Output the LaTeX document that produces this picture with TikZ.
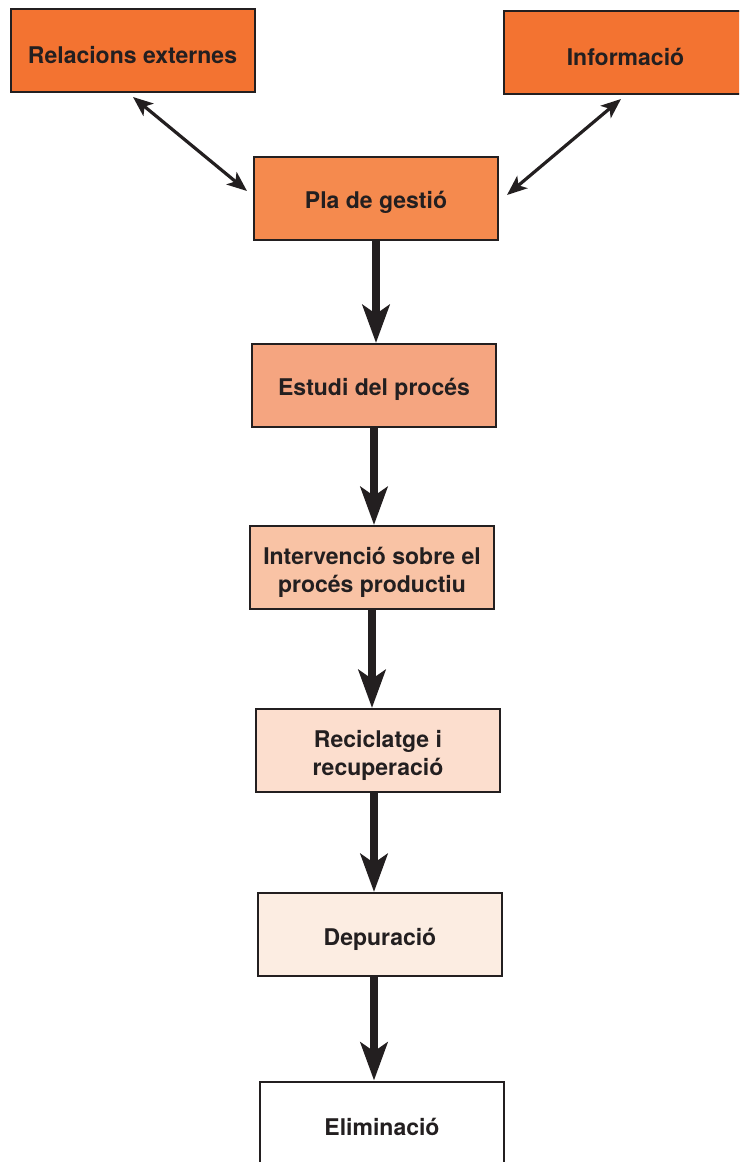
\documentclass[tikz,border=0pt]{standalone}
\usepackage{fontspec}
\setmainfont{TeX Gyre Heros}
\usetikzlibrary{arrows.meta}
\definecolor{ink}{HTML}{231F20}
\definecolor{c1}{HTML}{F37331}
\definecolor{c2}{HTML}{F58A4E}
\definecolor{c3}{HTML}{F5A580}
\definecolor{c4}{HTML}{F9C3A5}
\definecolor{c5}{HTML}{FCDECE}
\definecolor{c6}{HTML}{FCEDE2}
\newcommand\tp{\rule{0pt}{26pt}}
\tikzset{
  box/.style={draw=ink, line width=2pt, minimum width=244pt, minimum height=83pt,
    align=center, inner sep=0pt, text=ink, font=\fontsize{23}{28}\selectfont\bfseries},
  flow/.style={draw=ink, line width=8pt, -{Stealth[length=38pt, width=27pt, inset=9pt]}},
  dbl/.style={draw=ink, line width=3.2pt, {Stealth[length=20pt, width=16pt, inset=5pt]}-{Stealth[length=20pt, width=16pt, inset=5pt]}}
}
\begin{document}
\begin{tikzpicture}[x=1pt, y=-1pt]
\useasboundingbox (0,0) rectangle (739,1162);
\clip (0,0) rectangle (739,1162);
\node[box, fill=c1] (rel) at (132.5,50.5) {\tp Relacions externes};
\node[box, fill=c1] (inf) at (625.5,52.5) {\tp Informació};
\node[box, fill=c2] (pla) at (376,198.5) {\tp Pla de gestió};
\node[box, fill=c3] (est) at (374,385.5) {\tp Estudi del procés};
\node[box, fill=c4] (int) at (372,567.5) {\tp Intervenció sobre el\\procés productiu};
\node[box, fill=c5] (rec) at (378,750.5) {\tp Reciclatge i\\recuperació};
\node[box, fill=c6] (dep) at (380,934.5) {\tp Depuració};
\node[box, fill=white] (eli) at (382,1123) {\tp Eliminació};
\coordinate (r1) at (133,97);
\coordinate (r2) at (247,191);
\coordinate (i1) at (621,99);
\coordinate (i2) at (507,195);
\draw[dbl] (r1) -- (r2);
\draw[dbl] (i1) -- (i2);
\draw[flow] (pla.south) -- (pla.south |- est.north);
\draw[flow] (est.south) -- (est.south |- int.north);
\draw[flow] (int.south) -- (int.south |- rec.north);
\draw[flow] ([xshift=-4pt]rec.south) -- ([xshift=-4pt]rec.south |- dep.north);
\draw[flow] ([xshift=-6pt]dep.south) -- ([xshift=-6pt]dep.south |- eli.north);
\end{tikzpicture}
\end{document}
